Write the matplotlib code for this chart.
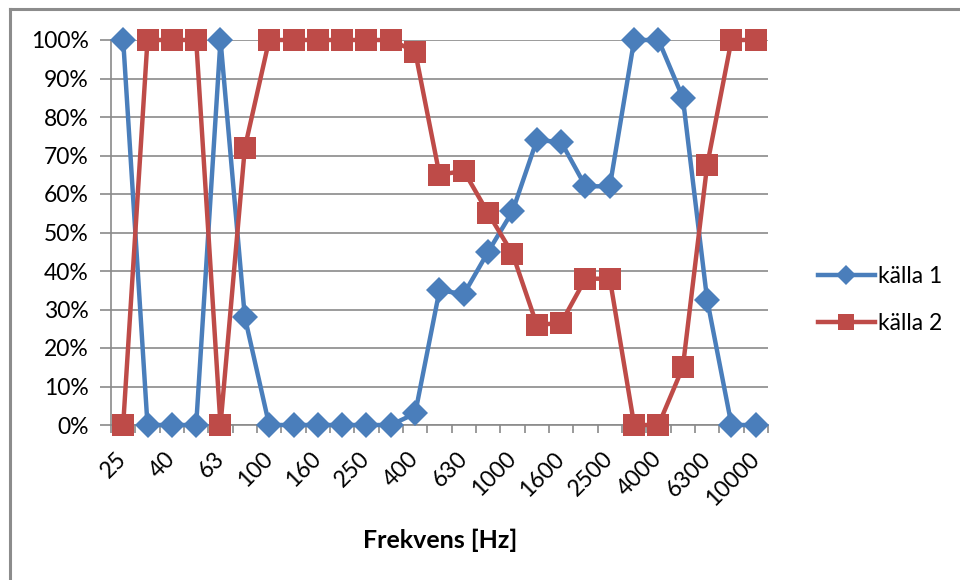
import matplotlib
matplotlib.use("Agg")
import matplotlib.pyplot as plt
from matplotlib.lines import Line2D
import numpy as np

categories = ["25", "31.5", "40", "50", "63", "80", "100", "125", "160", "200",
              "250", "315", "400", "500", "630", "800", "1000", "1250", "1600",
              "2000", "2500", "3150", "4000", "5000", "6300", "8000", "10000"]
kalla1 = [100, 0, 0, 0, 100, 28, 0, 0, 0, 0, 0, 0, 3, 35, 34, 45, 55.5, 74,
          73.5, 62, 62, 100, 100, 85, 32.5, 0, 0]
kalla2 = [0, 100, 100, 100, 0, 72, 100, 100, 100, 100, 100, 100, 97, 65, 66,
          55, 44.5, 26, 26.5, 38, 38, 0, 0, 15, 67.5, 100, 100]
series_names = ["källa 1", "källa 2"]
x_title = "Frekvens [Hz]"

plt.rcParams['font.family'] = ['Lato', 'DejaVu Sans']

W, H = 960, 580
fig = plt.figure(figsize=(W / 100, H / 100), dpi=100)

# outer chart border (left + top visible)
fig.add_artist(Line2D([10 / W, 10 / W], [0, 1 - 9 / H], transform=fig.transFigure,
                      color="#8c8c8c", lw=2.2))
fig.add_artist(Line2D([10 / W, 1], [1 - 9 / H, 1 - 9 / H], transform=fig.transFigure,
                      color="#8c8c8c", lw=2.2))

left, right, top, bottom = 111, 768, 40, 425
ax = fig.add_axes([left / W, 1 - bottom / H, (right - left) / W, (bottom - top) / H])

blue = "#4A7EBB"
red = "#BE4B48"
x = np.arange(len(categories))
ax.plot(x, np.array(kalla1) / 100, color=blue, lw=3.2, marker="D", ms=13,
        markeredgewidth=0, clip_on=False, zorder=3, label=series_names[0])
ax.plot(x, np.array(kalla2) / 100, color=red, lw=3.2, marker="s", ms=15.5,
        markeredgewidth=0, clip_on=False, zorder=4, label=series_names[1])

ax.set_xlim(-0.5, len(categories) - 0.5)
ax.set_ylim(0, 1)
yt = np.arange(0, 1.01, 0.1)
ax.set_yticks(yt)
ax.set_yticklabels([f"{int(round(v * 100))}%" for v in yt], fontsize=16.5)
ax.yaxis.grid(True, color="#8a8a8a", lw=1.2)
ax.set_axisbelow(True)

# major ticks at category boundaries, labels at every other category (minor)
ax.set_xticks(np.arange(-0.5, len(categories), 1.0))
ax.set_xticklabels([])
ax.set_xticks(x[::2], minor=True)
ax.set_xticklabels([categories[i] for i in x[::2]], minor=True, rotation=45,
                   ha="right", va="center", rotation_mode="anchor", fontsize=16.5)
ax.tick_params(axis="x", which="major", length=6, width=1.2, color="#8a8a8a", direction="out")
ax.tick_params(axis="x", which="minor", length=0, pad=22)
ax.tick_params(axis="y", length=8, width=1.2, color="#8a8a8a", pad=8)

for s in ["top", "right"]:
    ax.spines[s].set_visible(False)
for s in ["left", "bottom"]:
    ax.spines[s].set_color("#8a8a8a")
    ax.spines[s].set_linewidth(1.2)

fig.text(440 / W, 1 - 540 / H, x_title, ha="center", va="center",
         fontsize=18, fontweight="bold")

leg = fig.legend(loc="center left", bbox_to_anchor=(797 / W, 1 - 300 / H),
                 frameon=False, fontsize=16.5, handlelength=2.5, handletextpad=0.12,
                 labelspacing=1.1, markerscale=0.75)

fig.savefig("out.png", dpi=100, facecolor="white")
